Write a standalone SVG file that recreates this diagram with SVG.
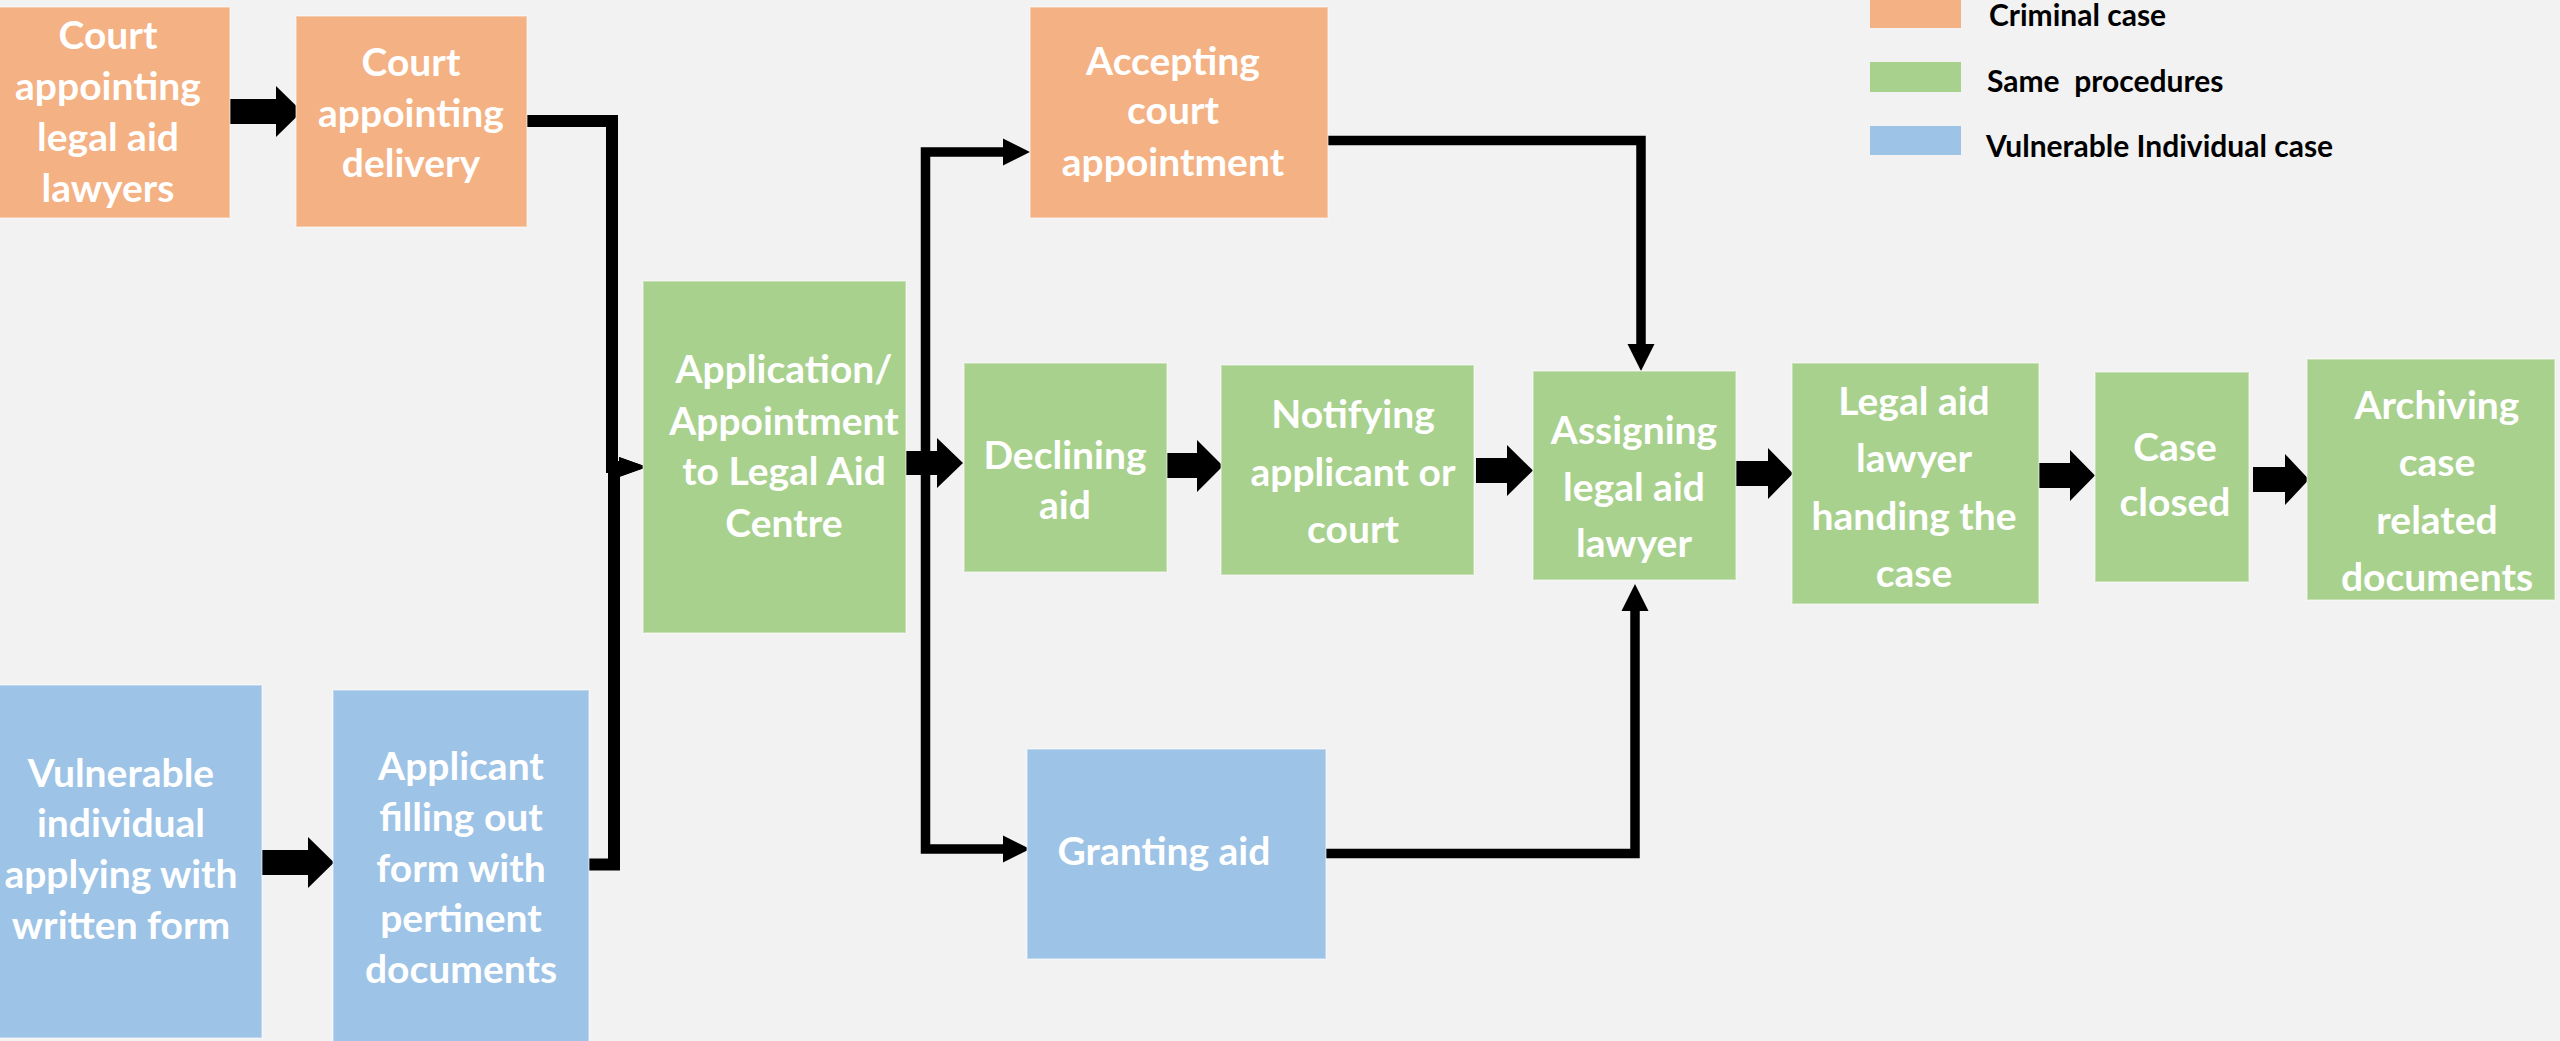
<svg xmlns="http://www.w3.org/2000/svg" width="2560" height="1041" viewBox="0 0 2560 1041">
<style>
.o{fill:#F4B183}
.g{fill:#A9D18E}
.b{fill:#9DC3E6}
.n rect{stroke:#ffffff;stroke-opacity:0.35;stroke-width:2}
.n text{font-family:Lato,"Liberation Sans",sans-serif;font-weight:700;font-size:39px;fill:#ffffff;text-anchor:middle}
.lg text{font-family:Lato,"Liberation Sans",sans-serif;font-weight:700;font-size:30px;fill:#000000}
.blk{fill:#000000}
.ln{fill:none;stroke:#000000;stroke-linejoin:miter}
.w12{stroke-width:12}
.w9{stroke-width:9.5}
</style>
<defs>
<marker id="ahS" markerUnits="userSpaceOnUse" markerWidth="28" markerHeight="20" refX="0" refY="10" orient="auto" overflow="visible"><path d="M0,0 L28,10 L0,20 z" fill="#000"/></marker>
<marker id="ahM" markerUnits="userSpaceOnUse" markerWidth="27" markerHeight="27" refX="0" refY="13.5" orient="auto" overflow="visible"><path d="M0,0 L27,13.5 L0,27 z" fill="#000"/></marker>
</defs>
<rect x="0" y="0" width="2560" height="1041" fill="#F2F2F2"/>

<g id="legend" class="lg">
<rect class="o" x="1870" y="0" width="91" height="28"/>
<rect class="g" x="1870" y="62" width="91" height="30"/>
<rect class="b" x="1870" y="126" width="91" height="29"/>
<text x="1989" y="26">Criminal case</text>
<text x="1987" y="92" xml:space="preserve">Same  procedures</text>
<text x="1986" y="157">Vulnerable Individual case</text>
</g>

<g id="connectors">
<path class="ln w12" d="M526,121 H612 V467 H619" marker-end="url(#ahS)"/>
<path class="ln w12" d="M589,864.5 H614 V467 H619" marker-end="url(#ahS)"/>
<path class="ln w9" d="M925.5,463 V152 H1003" marker-end="url(#ahM)"/>
<path class="ln w9" d="M925.5,463 V849 H1003" marker-end="url(#ahM)"/>
<path class="ln w9" d="M1328,140.5 H1641 V344" marker-end="url(#ahM)"/>
<path class="ln w9" d="M1326,853.5 H1635 V611" marker-end="url(#ahM)"/>
<polygon class="blk" points="230,99 276,99 276,86 302,111.5 276,137 276,124 230,124"/>
<polygon class="blk" points="261,850 308,850 308,837 334,862.5 308,888 308,875 261,875"/>
<polygon class="blk" points="905,451 937,451 937,438 963,463 937,488 937,475 905,475"/>
<polygon class="blk" points="1167,453 1197,453 1197,440 1223,466 1197,492 1197,478 1167,478"/>
<polygon class="blk" points="1476,458 1507,458 1507,445 1533,470.5 1507,496 1507,483 1476,483"/>
<polygon class="blk" points="1735,461 1768,461 1768,448 1793,473.5 1768,499 1768,486 1735,486"/>
<polygon class="blk" points="2039,463 2070,463 2070,450 2095,475.5 2070,501 2070,488 2039,488"/>
<polygon class="blk" points="2253,467 2285,467 2285,454 2309,479.5 2285,505 2285,492 2253,492"/>
</g>

<g id="n-court-appointing-lawyers" class="n">
<rect class="o" x="-10" y="7" width="240" height="211"/>
<text x="108" y="49">Court</text>
<text x="108" y="100">appointing</text>
<text x="108" y="151">legal aid</text>
<text x="108" y="202">lawyers</text>
</g>

<g id="n-court-appointing-delivery" class="n">
<rect class="o" x="296" y="16" width="231" height="211"/>
<text x="411" y="76">Court</text>
<text x="411" y="127">appointing</text>
<text x="411" y="177">delivery</text>
</g>

<g id="n-vulnerable-applying" class="n">
<rect class="b" x="-10" y="685" width="272" height="353"/>
<text x="121" y="787">Vulnerable</text>
<text x="121" y="837">individual</text>
<text x="121" y="888">applying with</text>
<text x="121" y="939">written form</text>
</g>

<g id="n-applicant-form" class="n">
<rect class="b" x="333" y="690" width="256" height="360"/>
<text x="461" y="780">Applicant</text>
<text x="461" y="831">filling out</text>
<text x="461" y="882">form with</text>
<text x="461" y="932">pertinent</text>
<text x="461" y="983">documents</text>
</g>

<g id="n-application" class="n">
<rect class="g" x="643" y="281" width="263" height="352"/>
<text x="784" y="383">Application/</text>
<text x="784" y="435">Appointment</text>
<text x="784" y="485">to Legal Aid</text>
<text x="784" y="537">Centre</text>
</g>

<g id="n-accepting" class="n">
<rect class="o" x="1030" y="7" width="298" height="211"/>
<text x="1173" y="75">Accepting</text>
<text x="1173" y="124">court</text>
<text x="1173" y="176">appointment</text>
</g>

<g id="n-declining" class="n">
<rect class="g" x="964" y="363" width="203" height="209"/>
<text x="1065" y="469">Declining</text>
<text x="1065" y="519">aid</text>
</g>

<g id="n-notifying" class="n">
<rect class="g" x="1221" y="365" width="253" height="210"/>
<text x="1353" y="428">Notifying</text>
<text x="1353" y="486">applicant or</text>
<text x="1353" y="543">court</text>
</g>

<g id="n-granting" class="n">
<rect class="b" x="1027" y="749" width="299" height="210"/>
<text x="1164" y="865">Granting aid</text>
</g>

<g id="n-assigning" class="n">
<rect class="g" x="1533" y="371" width="203" height="209"/>
<text x="1634" y="444">Assigning</text>
<text x="1634" y="501">legal aid</text>
<text x="1634" y="557">lawyer</text>
</g>

<g id="n-legal-aid-handling" class="n">
<rect class="g" x="1792" y="363" width="247" height="241"/>
<text x="1914" y="415">Legal aid</text>
<text x="1914" y="472">lawyer</text>
<text x="1914" y="530">handing the</text>
<text x="1914" y="587">case</text>
</g>

<g id="n-case-closed" class="n">
<rect class="g" x="2095" y="372" width="154" height="210"/>
<text x="2175" y="461">Case</text>
<text x="2175" y="516">closed</text>
</g>

<g id="n-archiving" class="n">
<rect class="g" x="2307" y="359" width="248" height="241"/>
<text x="2437" y="419">Archiving</text>
<text x="2437" y="476">case</text>
<text x="2437" y="534">related</text>
<text x="2437" y="591">documents</text>
</g>
</svg>
